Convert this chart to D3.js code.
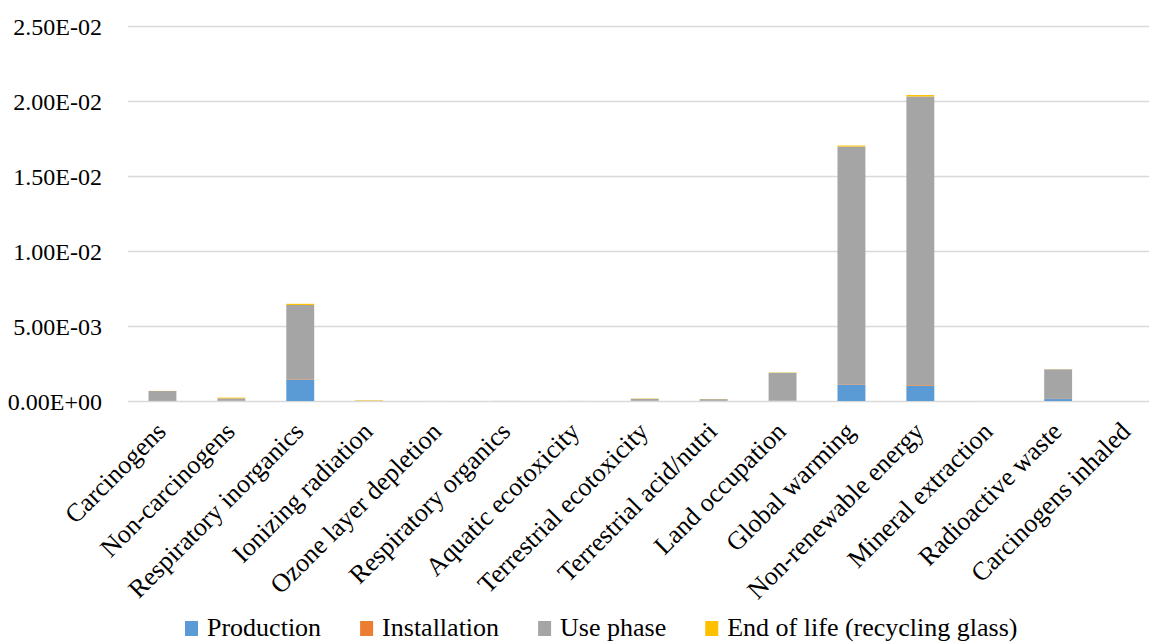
<!DOCTYPE html>
<html>
<head>
<meta charset="utf-8">
<script src="https://cdn.jsdelivr.net/npm/d3@7"></script>
<style>
  html, body { margin: 0; padding: 0; background: #fff; }
  svg { display: block; }
  svg text { font-family: "Liberation Serif", "Times New Roman", serif !important; fill: #000; }
</style>
</head>
<body>
<svg id="chart" width="1149" height="644"></svg>
<script>
// Impact categories (x axis)
const categories = [
  "Carcinogens", "Non-carcinogens", "Respiratory inorganics", "Ionizing radiation",
  "Ozone layer depletion", "Respiratory organics", "Aquatic ecotoxicity",
  "Terrestrial ecotoxicity", "Terrestrial acid/nutri", "Land occupation",
  "Global warming", "Non-renewable energy", "Mineral extraction",
  "Radioactive waste", "Carcinogens inhaled"
];

// Life-cycle stages (stack order, bottom to top)
const seriesNames = ["Production", "Installation", "Use phase", "End of life (recycling glass)"];
const seriesColors = ["#5B9BD5", "#ED7D31", "#A5A5A5", "#FFC000"];

// Values per stage, one per category
const production   = [0, 0.00001, 0.00143, 0.000005, 0, 0, 0, 0.00001, 0.00001, 0.00002, 0.0011, 0.001, 0, 0.00013, 0];
const installation = [0.000005, 0.000005, 0.00003, 0, 0, 0, 0, 0.000005, 0.000005, 0.00001, 0.00003, 0.00005, 0, 0.00001, 0];
const usePhase     = [0.00066, 0.00016, 0.00494, 0.00001, 0.000002, 0.000005, 0.000003, 0.00013, 0.00011, 0.00185, 0.01583, 0.01925, 0.000002, 0.00197, 0.000001];
const endOfLife    = [0.00001, 0.00005, 0.00008, 0.00003, 0, 0, 0, 0.00002, 0.00001, 0.00002, 0.00007, 0.0001, 0, 0.00001, 0];

// Y axis ticks
const yTicks = [0, 0.005, 0.01, 0.015, 0.02, 0.025];

const rows = categories.map((c, i) => ({
  category: c,
  [seriesNames[0]]: production[i],
  [seriesNames[1]]: installation[i],
  [seriesNames[2]]: usePhase[i],
  [seriesNames[3]]: endOfLife[i]
}));

const svg = d3.select("#chart");
const plot = { left: 128, right: 1161.5, top: 26, bottom: 401 };

const x = d3.scaleBand()
  .domain(categories)
  .range([plot.left, plot.right])
  .paddingInner(0.595)
  .paddingOuter(0.2975);

const y = d3.scaleLinear()
  .domain([0, 0.025])
  .range([plot.bottom, plot.top]);

// Scientific notation like 2.50E-02
function sci(v) {
  if (v === 0) return "0.00E+00";
  const [m, e] = v.toExponential(2).split("e");
  const n = parseInt(e, 10);
  const sign = n < 0 ? "-" : "+";
  return m + "E" + sign + String(Math.abs(n)).padStart(2, "0");
}

// Gridlines
svg.append("g")
  .selectAll("line")
  .data(yTicks)
  .join("line")
  .attr("x1", plot.left)
  .attr("x2", 1149)
  .attr("y1", d => Math.round(y(d)) + 0.5)
  .attr("y2", d => Math.round(y(d)) + 0.5)
  .attr("stroke", "#D9D9D9")
  .attr("stroke-width", 1.3);

// Y axis labels
const yAxis = d3.axisLeft(y).tickValues(yTicks).tickFormat(sci).tickSize(0).tickPadding(0);
svg.append("g")
  .attr("transform", `translate(${plot.left - 26},0)`)
  .call(yAxis)
  .call(g => g.select(".domain").remove())
  .attr("font-family", null)
  .selectAll("text")
  .attr("font-size", "24px")
  .attr("dy", "0.34em");

// Stacked bars
const stack = d3.stack().keys(seriesNames);
const layers = stack(rows);

svg.append("g")
  .selectAll("g")
  .data(layers)
  .join("g")
  .attr("fill", (d, i) => seriesColors[i])
  .selectAll("rect")
  .data(d => d)
  .join("rect")
  .attr("x", d => x(d.data.category))
  .attr("width", x.bandwidth())
  .attr("y", d => y(d[1]))
  .attr("height", d => Math.max(0, y(d[0]) - y(d[1])));

// X axis labels (rotated)
const xAxis = d3.axisBottom(x).tickSize(0).tickPadding(0);
svg.append("g")
  .attr("transform", `translate(0,${plot.bottom})`)
  .call(xAxis)
  .call(g => g.select(".domain").remove())
  .attr("font-family", null)
  .selectAll("text")
  .attr("font-size", "26px")
  .attr("text-anchor", "end")
  .attr("dy", null)
  .attr("y", 0)
  .attr("transform", "translate(5,32) rotate(-45)");

// Legend
const legend = svg.append("g");
const items = legend.selectAll("g")
  .data(seriesNames)
  .join("g");
items.append("rect")
  .attr("width", 13)
  .attr("height", 15)
  .attr("y", -15)
  .attr("fill", (d, i) => seriesColors[i]);
items.append("text")
  .attr("x", 22)
  .attr("y", 0)
  .attr("font-size", "26px")
  .text(d => d);

let cursor = 0;
items.each(function () {
  const w = this.getBBox().width;
  d3.select(this).attr("transform", `translate(${cursor},0)`);
  cursor += w + 39;
});
const total = cursor - 39;
legend.attr("transform", `translate(${Math.round(601 - total / 2)},636)`);
</script>
</body>
</html>
